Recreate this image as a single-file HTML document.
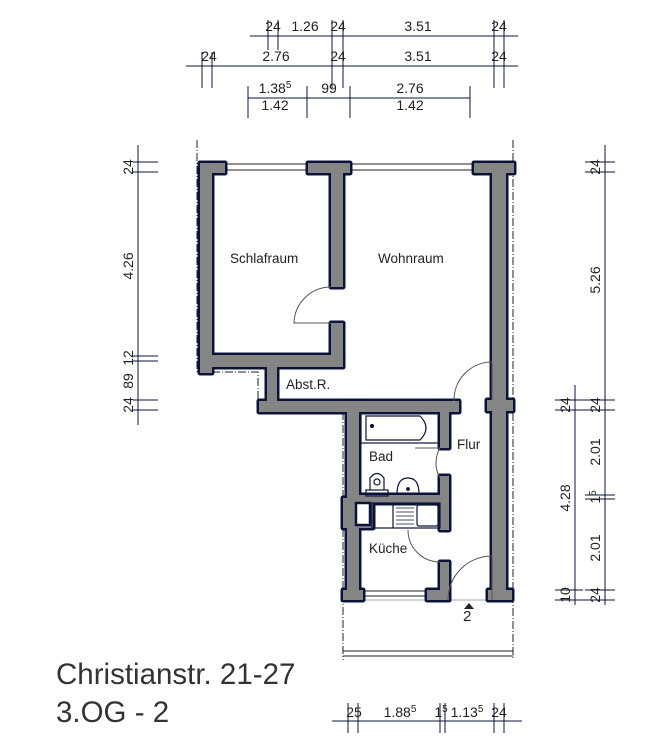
<!DOCTYPE html>
<html><head><meta charset="utf-8"><style>
html,body{margin:0;padding:0;background:#fff;}
svg{display:block;}
text{font-family:"Liberation Sans",Arial,sans-serif;fill:#222;}
</style></head><body>
<svg width="660" height="753" viewBox="0 0 660 753" xmlns="http://www.w3.org/2000/svg">
<defs>
<g id="walls">
<rect x="200" y="163" width="25" height="10"/>
<rect x="200" y="163" width="12" height="210"/>
<rect x="308" y="163" width="42" height="10"/>
<rect x="331" y="163" width="12" height="124"/>
<rect x="331" y="323" width="12" height="44"/>
<rect x="200" y="355" width="143" height="12"/>
<rect x="267" y="362" width="10" height="50"/>
<rect x="259" y="401" width="200" height="11"/>
<rect x="474" y="163" width="40" height="10"/>
<rect x="492" y="163" width="14" height="437"/>
<rect x="487" y="400" width="26" height="11"/>
<rect x="347" y="401" width="12" height="199"/>
<rect x="440" y="401" width="9" height="47"/>
<rect x="440" y="476" width="9" height="54"/>
<rect x="347" y="495" width="102" height="8"/>
<rect x="343" y="498" width="30" height="30"/>
<rect x="440" y="562" width="9" height="38"/>
<rect x="427" y="590" width="22" height="10"/>
<rect x="343" y="590" width="20" height="10"/>
<rect x="488" y="590" width="24" height="10"/>
</g>
</defs>
<!-- dash-dot outline -->
<g stroke="#222" stroke-width="1" fill="none" stroke-dasharray="8,2,1,2">
<polyline points="197,140 197,372 258,372 258,412"/>
<line x1="343" y1="412" x2="343" y2="660"/>
<line x1="513" y1="140" x2="513" y2="660"/>
</g>
<g stroke="#222" stroke-width="1" fill="none">
<line x1="343" y1="651" x2="513" y2="651"/>
<line x1="343" y1="656" x2="513" y2="656"/>
<line x1="343" y1="600" x2="513" y2="600" stroke="#aaa"/>
<line x1="225" y1="164" x2="310" y2="164"/><line x1="225" y1="170" x2="310" y2="170"/>
<line x1="350" y1="164" x2="475" y2="164"/><line x1="350" y1="170" x2="475" y2="170"/>
<line x1="362" y1="591" x2="430" y2="591"/><line x1="362" y1="596" x2="430" y2="596"/>
<line x1="275" y1="413" x2="343" y2="413"/>
</g>
<!-- walls merged -->
<use href="#walls" fill="#0b1438" stroke="#0b1438" stroke-width="5" stroke-linejoin="round"/>
<use href="#walls" fill="#858585" stroke="none"/>
<rect x="356" y="503" width="14" height="22" fill="#fff" stroke="#0b1438" stroke-width="2.5"/>
<!-- doors -->
<g stroke="#555" stroke-width="1" fill="none">
<path d="M331,287 A37,37 0 0 0 294,323 L331,323"/>
<path d="M492,362 A38,38 0 0 0 454,400 L454,401"/><line x1="492" y1="362" x2="492" y2="400"/>
<path d="M440,448 A30,30 0 0 0 440,478"/><line x1="415" y1="448" x2="440" y2="448"/>
<path d="M408,530 A32,32 0 0 0 440,562"/>
<path d="M448,600 A44,44 0 0 1 492,556 L492,600"/>
</g>
<!-- fixtures -->
<g stroke="#0b1438" stroke-width="1.2" fill="none">
<rect x="361" y="413" width="78" height="30"/>
<path d="M366,416 L420,416 Q432,428 420,440 L366,440z"/>
<circle cx="372" cy="426" r="1.5" fill="#0b1438"/>
<rect x="366" y="490" width="22" height="6"/>
<path d="M370,490 L370,478 Q377,469 384,478 L384,490"/>
<circle cx="377" cy="482" r="3"/>
<path d="M397,494 Q397,478 408,478 Q419,478 419,494z"/>
<circle cx="408" cy="489" r="1.3" fill="#0b1438"/>
<rect x="372" y="503" width="68" height="25"/>
<line x1="393" y1="503" x2="393" y2="528"/>
<rect x="417" y="505" width="21" height="21" rx="2"/>
<g stroke-width="0.8"><line x1="396" y1="508" x2="414" y2="508"/><line x1="396" y1="512" x2="414" y2="512"/><line x1="396" y1="516" x2="414" y2="516"/><line x1="396" y1="520" x2="414" y2="520"/><line x1="396" y1="524" x2="414" y2="524"/></g>
</g>
<path d="M464,609 L469,603 L474,609z" fill="#222"/>
<!-- room labels -->
<g font-size="13.5">
<text x="230" y="263">Schlafraum</text>
<text x="378" y="263">Wohnraum</text>
<text x="286" y="389">Abst.R.</text>
<text x="457" y="449">Flur</text>
<text x="369" y="461">Bad</text>
<text x="369" y="553">Küche</text>
<text x="463" y="621" font-size="15">2</text>
</g>
<!-- top dims -->
<g stroke="#0b1438" stroke-width="1" fill="none">
<line x1="250" y1="36" x2="518" y2="36"/>
<line x1="186" y1="66" x2="518" y2="66"/>
<line x1="248" y1="98" x2="470" y2="98"/>
<line x1="268" y1="20" x2="268" y2="50"/><line x1="278" y1="20" x2="278" y2="50"/>
<line x1="332" y1="20" x2="332" y2="88"/><line x1="343" y1="20" x2="343" y2="88"/>
<line x1="494" y1="20" x2="494" y2="88"/><line x1="504" y1="20" x2="504" y2="88"/>
<line x1="202" y1="52" x2="202" y2="88"/><line x1="212" y1="52" x2="212" y2="88"/>
<line x1="248" y1="86" x2="248" y2="118"/><line x1="307" y1="86" x2="307" y2="118"/>
<line x1="350" y1="86" x2="350" y2="118"/><line x1="470" y1="86" x2="470" y2="118"/>
</g>
<g font-size="14" text-anchor="middle">
<text x="273" y="31">24</text><text x="305" y="31">1.26</text><text x="338" y="31">24</text><text x="418" y="31">3.51</text><text x="499" y="31">24</text>
<text x="209" y="61">24</text><text x="276" y="61">2.76</text><text x="338" y="61">24</text><text x="418" y="61">3.51</text><text x="499" y="61">24</text>
<text x="275" y="93">1.38<tspan font-size="10" dy="-5">5</tspan></text><text x="329" y="93">99</text><text x="410" y="93">2.76</text>
<text x="275" y="110">1.42</text><text x="410" y="110">1.42</text>
</g>
<!-- left dims -->
<g stroke="#0b1438" stroke-width="1" fill="none">
<line x1="138" y1="145" x2="138" y2="425"/>
<line x1="133" y1="162" x2="158" y2="162"/><line x1="133" y1="172" x2="158" y2="172"/>
<line x1="133" y1="356" x2="158" y2="356"/><line x1="133" y1="361" x2="158" y2="361"/>
<line x1="133" y1="400" x2="158" y2="400"/><line x1="133" y1="410" x2="158" y2="410"/>
</g>
<g font-size="14" text-anchor="middle">
<text transform="translate(133,167) rotate(-90)">24</text>
<text transform="translate(133,266) rotate(-90)">4.26</text>
<text transform="translate(133,358) rotate(-90)">12</text>
<text transform="translate(133,381) rotate(-90)">89</text>
<text transform="translate(133,405) rotate(-90)">24</text>
</g>
<!-- right dims -->
<g stroke="#0b1438" stroke-width="1" fill="none">
<line x1="605" y1="145" x2="605" y2="605"/>
<line x1="575" y1="385" x2="575" y2="605"/>
<line x1="585" y1="162" x2="615" y2="162"/><line x1="585" y1="172" x2="615" y2="172"/>
<line x1="555" y1="400" x2="615" y2="400"/><line x1="555" y1="410" x2="615" y2="410"/>
<line x1="585" y1="495" x2="615" y2="495"/><line x1="585" y1="499" x2="615" y2="499"/>
<line x1="555" y1="590" x2="583" y2="590"/>
<line x1="555" y1="600" x2="615" y2="600"/><line x1="585" y1="590" x2="615" y2="590"/>
</g>
<g font-size="14" text-anchor="middle">
<text transform="translate(600,167) rotate(-90)">24</text>
<text transform="translate(600,280) rotate(-90)">5.26</text>
<text transform="translate(600,405) rotate(-90)">24</text>
<text transform="translate(570,405) rotate(-90)">24</text>
<text transform="translate(600,452) rotate(-90)">2.01</text>
<text transform="translate(570,498) rotate(-90)">4.28</text>
<text transform="translate(600,497) rotate(-90)">1<tspan font-size="10" dy="-4">5</tspan></text>
<text transform="translate(600,548) rotate(-90)">2.01</text>
<text transform="translate(570,595) rotate(-90)">10</text>
<text transform="translate(600,595) rotate(-90)">24</text>
</g>
<!-- bottom dims -->
<g stroke="#0b1438" stroke-width="1" fill="none">
<line x1="332" y1="721" x2="522" y2="721"/>
<line x1="348" y1="703" x2="348" y2="733"/><line x1="358" y1="703" x2="358" y2="733"/>
<line x1="440" y1="703" x2="440" y2="733"/><line x1="445" y1="703" x2="445" y2="733"/>
<line x1="494" y1="703" x2="494" y2="733"/><line x1="504" y1="703" x2="504" y2="733"/>
</g>
<g font-size="14" text-anchor="middle">
<text x="354" y="717">25</text><text x="400" y="717">1.88<tspan font-size="10" dy="-5">5</tspan></text>
<text x="441" y="717">1<tspan font-size="10" dy="-5">5</tspan></text>
<text x="467" y="717">1.13<tspan font-size="10" dy="-5">5</tspan></text><text x="499" y="717">24</text>
</g>
<text x="56" y="684" font-size="29.5" style="fill:#333">Christianstr. 21-27</text>
<text x="56" y="722" font-size="29.5" style="fill:#333">3.OG - 2</text>
</svg>
</body></html>
